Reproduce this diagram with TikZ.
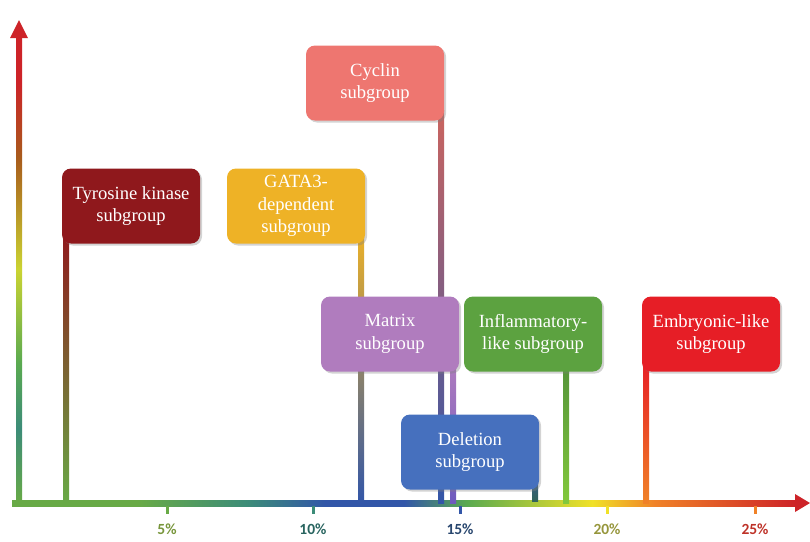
\documentclass[tikz,border=0pt]{standalone}
\usepackage{fontspec}
\setmainfont{Liberation Serif}
\newfontfamily\tickfont{Carlito}
\usetikzlibrary{shadows,calc}
\definecolor{cTK}{RGB}{143,24,28}
\definecolor{cGA}{RGB}{238,178,38}
\definecolor{cCY}{RGB}{238,118,112}
\definecolor{cMA}{RGB}{176,124,190}
\definecolor{cIN}{RGB}{92,162,64}
\definecolor{cEM}{RGB}{230,30,38}
\definecolor{cDE}{RGB}{70,112,190}
\definecolor{ax1}{RGB}{104,170,70}
\definecolor{ax2}{RGB}{60,140,120}
\definecolor{ax3}{RGB}{50,86,168}
\definecolor{ax4}{RGB}{90,170,80}
\definecolor{ax5}{RGB}{240,225,40}
\definecolor{ax6}{RGB}{240,130,40}
\definecolor{ax7}{RGB}{205,35,40}
\pgfdeclarehorizontalshading{xaxisshade}{100bp}{color(0bp)=(ax1); color(25bp)=(ax1); color(33bp)=(ax1); color(40bp)=(ax2); color(45bp)=(ax3); color(50bp)=(ax3); color(54bp)=(ax4); color(62bp)=(ax5); color(66bp)=(ax6); color(75bp)=(ax7); color(100bp)=(ax7)}
\pgfdeclareverticalshading{yaxisshade}{100bp}{color(0bp)=(ax1); color(25bp)=(ax1); color(33bp)=(ax2); color(40bp)=(ax4); color(50bp)=(ax5!75!ax4); color(62bp)=(ax6!70!black); color(70bp)=(ax7); color(100bp)=(ax7)}
\tikzset{
  grp/.style={rounded corners=9pt, minimum width=138pt, minimum height=75pt,
    text=white, align=center, font=\fontsize{18.6}{22.5}\selectfont, inner sep=1pt,
    drop shadow={shadow xshift=2pt, shadow yshift=-2pt, opacity=0.35}},
  tick/.style={line width=3pt},
  ticklab/.style={anchor=north, inner sep=0pt, font=\tickfont\bfseries\fontsize{15.5}{15.5}\selectfont}
}
\begin{document}
\begin{tikzpicture}[x=1pt,y=-1pt]
\useasboundingbox (0,0) rectangle (810,541);
% axes
\shade[shading=yaxisshade] (16,503) rectangle (22,36);
\fill[ax7] (10,38) -- (19,20) -- (28,38) -- cycle;
\shade[shading=xaxisshade] (12,500) rectangle (796,506);
\fill[ax7] (795,494) -- (810,503) -- (795,512) -- cycle;
% axis anchor coordinates
\coordinate (a1) at (66,503);
\coordinate (a2) at (361,503);
\coordinate (a3) at (441,503);
\coordinate (a4) at (453,503);
\coordinate (a5) at (566,503);
\coordinate (a6) at (646,503);
\coordinate (a7) at (535,503);
% ticks
\foreach \xx/\cc in {167/ax1,313/ax2,460/ax3,607/ax5,755/ax6}
  \draw[tick,\cc] (\xx,506) -- (\xx,514);
\node[ticklab, text={rgb,255:red,120;green,150;blue,60}] (t5) at (167,524) {5\%};
\node[ticklab, text={rgb,255:red,40;green,100;blue,95}] (t10) at (313,524) {10\%};
\node[ticklab, text={rgb,255:red,40;green,70;blue,110}] (t15) at (460,524) {15\%};
\node[ticklab, text={rgb,255:red,150;green,150;blue,60}] (t20) at (607,524) {20\%};
\node[ticklab, text={rgb,255:red,190;green,50;blue,40}] (t25) at (755,524) {25\%};
% stems
\shade[top color=cTK, middle color={rgb,255:red,130;green,120;blue,40}, bottom color=ax1] (63,230) rectangle (69,503);
\shade[top color=cGA, middle color={rgb,255:red,160;green,140;blue,70}, bottom color=ax3] (358,230) rectangle (364,503);
\shade[top color=cCY!85!black, middle color={rgb,255:red,150;green,90;blue,150}, bottom color=ax3] (438,110) rectangle (444,503);
\shade[top color=cMA, bottom color={rgb,255:red,110;green,90;blue,190}] (450,360) rectangle (456,503);
\shade[top color=cIN!90!black, bottom color={rgb,255:red,130;green,200;blue,60}] (563,360) rectangle (569,503);
\shade[top color=cEM, bottom color=ax6] (643,360) rectangle (649,503);
\shade[top color=cDE!80!black, bottom color={rgb,255:red,50;green,100;blue,90}] (532,475) rectangle (538,501);
% boxes
\node[grp, fill=cTK] (tk) at (131,206) {Tyrosine kinase\\subgroup};
\node[grp, fill=cGA] (ga) at (296,206) {GATA3-\\dependent\\subgroup};
\node[grp, fill=cCY] (cy) at (375,83) {Cyclin\\subgroup};
\node[grp, fill=cMA] (ma) at (390,334) {Matrix\\subgroup};
\node[grp, fill=cIN] (in) at (533,334) {Inflammatory-\\like subgroup};
\node[grp, fill=cEM] (em) at (711,334) {Embryonic-like\\subgroup};
\node[grp, fill=cDE] (de) at (470,452) {Deletion\\subgroup};
\end{tikzpicture}
\end{document}
